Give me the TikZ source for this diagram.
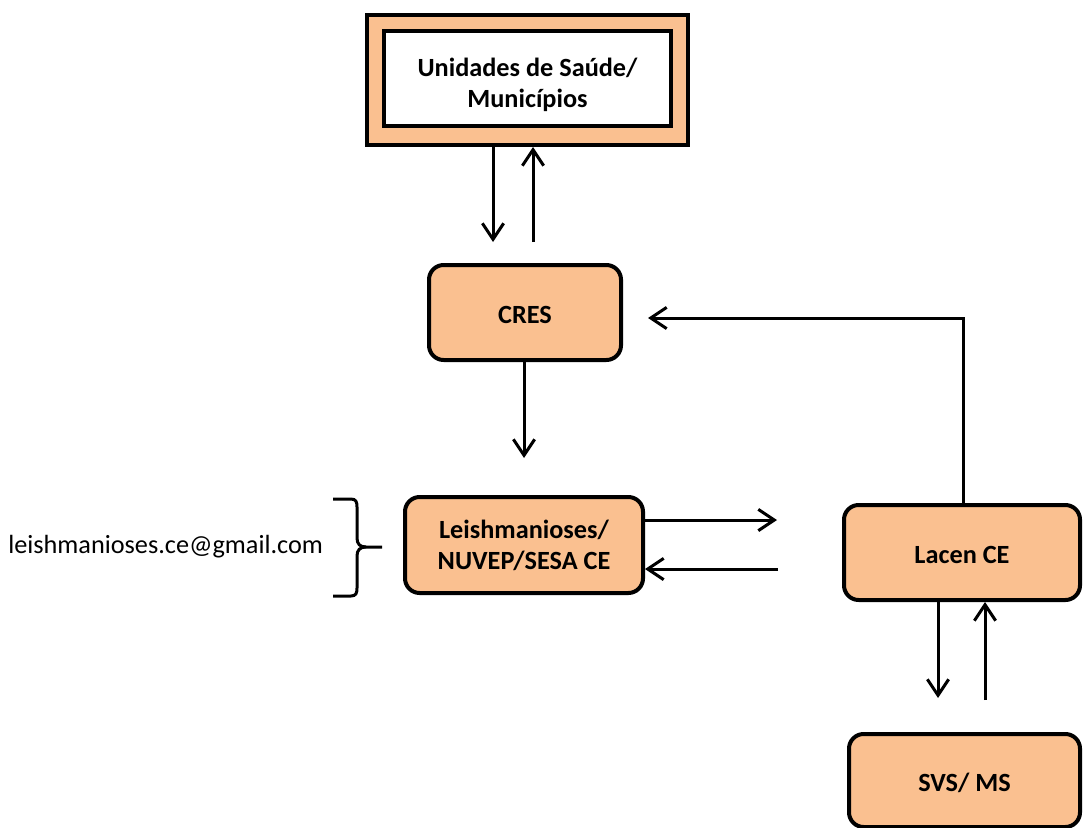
\documentclass[tikz,border=0pt]{standalone}
\usepackage{fontspec}
\setmainfont{Carlito}
\usetikzlibrary{arrows.meta}
\definecolor{peach}{RGB}{250,192,144}
\begin{document}
\begin{tikzpicture}[x=0.75pt,y=-0.75pt,
  box/.style={draw,line width=3pt,fill=peach,rounded corners=11pt,align=center,inner sep=0pt,font=\bfseries\fontsize{19.7}{23.25}\selectfont},
  conn/.style={->,line width=2.25pt},
  >={Straight Barb[length=12pt,width=16pt]}]
\useasboundingbox (0,0) rectangle (1085,828);
\node[box,rounded corners=0pt,minimum width=240.75pt,minimum height=97.5pt] (us) at (527.5,80) {};
\node[box,rounded corners=0pt,fill=white,minimum width=215.25pt,minimum height=71.25pt] (usi) at (527.5,78.5) {\rule{0pt}{24pt}Unidades de Saúde/\\Municípios};
\node[box,minimum width=144pt,minimum height=71.25pt] (cres) at (525,312.5) {\rule{0pt}{16pt}CRES};
\node[box,minimum width=178.5pt,minimum height=72pt] (leish) at (524,545) {Leishmanioses/\\NUVEP/SESA CE};
\node[box,minimum width=177pt,minimum height=71.25pt] (lacen) at (962,552.5) {\rule{0pt}{17pt}Lacen CE};
\node[box,minimum width=173.25pt,minimum height=69.75pt] (svs) at (964.5,780.5) {\rule{0pt}{17pt}SVS/ MS};
\node[anchor=west,inner sep=0pt,font=\fontsize{19.7}{23.25}\selectfont] (mail) at (8,547) {leishmanioses.ce@gmail.com};
\coordinate (ua) at (493,242);
\coordinate (ub) at (533,242);
\coordinate (ca) at (524,458);
\coordinate (la) at (777,520);
\coordinate (lb) at (778,569);
\coordinate (ra) at (963,318);
\coordinate (rb) at (648,318);
\coordinate (sa) at (938,698);
\coordinate (sb) at (985,700);
\draw[conn] (us.south -| ua) -- (ua);
\draw[conn] (ub) -- (us.south -| ub);
\draw[conn] (cres.south -| ca) -- (ca);
\draw[conn] (leish.east |- la) -- (la);
\draw[conn] (lb) -- (leish.east |- lb);
\draw[conn] (lacen.north -| ra) -- (ra) -- (rb);
\draw[conn] (lacen.south -| sa) -- (sa);
\draw[conn] (sb) -- (lacen.south -| sb);
\draw[line width=2.25pt] (333,499) -- (351,499) .. controls (356,499) and (357,502) .. (357,507) -- (357,538) .. controls (357,544) and (360,547) .. (366,547) -- (382,547);
\draw[line width=2.25pt] (333,596) -- (351,596) .. controls (356,596) and (357,593) .. (357,588) -- (357,556) .. controls (357,550) and (360,547) .. (366,547);
\end{tikzpicture}
\end{document}
